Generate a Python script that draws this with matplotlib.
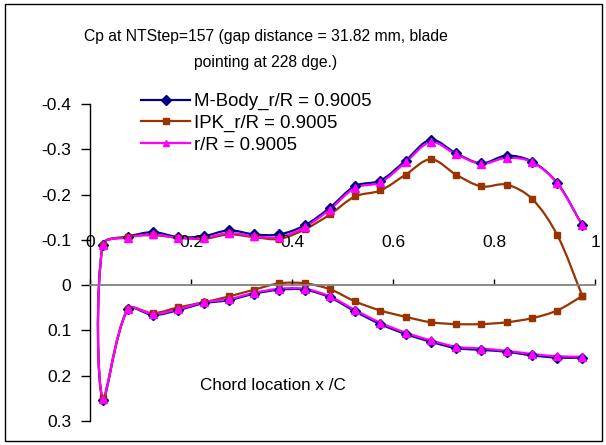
import matplotlib
matplotlib.use("Agg")
import matplotlib.pyplot as plt
from matplotlib.path import Path
from matplotlib.patches import PathPatch, Rectangle
from matplotlib.lines import Line2D
import numpy as np

# ---------------- data ----------------
x_chord = [0.025, 0.075, 0.125, 0.175, 0.225, 0.275, 0.325, 0.375, 0.425, 0.475,
           0.525, 0.575, 0.625, 0.675, 0.725, 0.775, 0.825, 0.875, 0.925, 0.975]

mbody_upper = [-0.089, -0.107, -0.117, -0.106, -0.108, -0.121, -0.112, -0.112, -0.132, -0.171,
               -0.219, -0.231, -0.275, -0.321, -0.291, -0.269, -0.286, -0.273, -0.226, -0.132]
mbody_lower = [0.254, 0.053, 0.066, 0.055, 0.040, 0.033, 0.019, 0.010, 0.010, 0.027,
               0.058, 0.086, 0.108, 0.125, 0.139, 0.143, 0.147, 0.155, 0.160, 0.160]

ipk_upper = [-0.089, -0.107, -0.110, -0.105, -0.102, -0.112, -0.106, -0.102, -0.123, -0.156,
             -0.196, -0.209, -0.244, -0.278, -0.244, -0.218, -0.222, -0.191, -0.111, 0.024]
ipk_lower = [0.249, 0.053, 0.062, 0.049, 0.038, 0.025, 0.010, -0.004, -0.004, 0.009,
             0.036, 0.056, 0.070, 0.082, 0.086, 0.086, 0.082, 0.073, 0.056, 0.024]

rr_upper = [-0.089, -0.105, -0.112, -0.104, -0.104, -0.115, -0.108, -0.106, -0.128, -0.167,
            -0.215, -0.227, -0.271, -0.316, -0.289, -0.268, -0.281, -0.272, -0.225, -0.132]
rr_lower = [0.252, 0.052, 0.064, 0.053, 0.038, 0.031, 0.017, 0.008, 0.008, 0.025,
            0.055, 0.083, 0.105, 0.122, 0.136, 0.140, 0.145, 0.152, 0.157, 0.158]

series_labels = ["M-Body_r/R = 0.9005", "IPK_r/R = 0.9005", "r/R = 0.9005"]
x_ticks = [0, 0.2, 0.4, 0.6, 0.8, 1.0]
x_tick_labels = ["0", "0.2", "0.4", "0.6", "0.8", "1"]
y_ticks = [-0.4, -0.3, -0.2, -0.1, 0.0, 0.1, 0.2, 0.3]
y_tick_labels = ["-0.4", "-0.3", "-0.2", "-0.1", "0", "0.1", "0.2", "0.3"]
title_lines = ["Cp at NTStep=157 (gap distance = 31.82 mm, blade", "pointing at 228 dge.)"]
axis_note = "Chord location x /C"

W, H = 606, 445
fig = plt.figure(figsize=(W / 100, H / 100), dpi=100)
fig.patch.set_facecolor("white")
plt.rcParams["font.family"] = ["Liberation Sans", "DejaVu Sans"]

# outer chart frame
fig.patches.append(Rectangle((5 / W, 4 / H), 597 / W, 437 / H, transform=fig.transFigure,
                             fill=False, edgecolor="black", linewidth=1.0))

left, right, top, bottom = 90, 595, 104, 421
ax = fig.add_axes([left / W, 1 - bottom / H, (right - left) / W, (bottom - top) / H])
ax.set_xlim(0, 1)
ax.set_ylim(0.3, -0.4)
ax.set_facecolor("none")


def smooth_path(xs, ys):
    """Excel-like smoothed line: cubic Bezier segments, tangents scaled by
    neighbouring segment lengths, computed in display space."""
    P = ax.transData.transform(np.column_stack([xs, ys]).astype(float))
    n = len(P)
    verts = [P[0]]
    codes = [Path.MOVETO]
    dist = lambda a, b: float(np.hypot(*(b - a)))
    for i in range(n - 1):
        p1, p2 = P[i], P[i + 1]
        d12 = dist(p1, p2)
        if i > 0:
            p0 = P[i - 1]
            d01 = dist(p0, p1)
            c1 = p1 + (p2 - p0) * (d12 / (d01 + d12)) / 3.0
        else:
            c1 = p1 + (p2 - p1) / 3.0
        if i + 2 < n:
            p3 = P[i + 2]
            d23 = dist(p2, p3)
            c2 = p2 - (p3 - p1) * (d12 / (d12 + d23)) / 3.0
        else:
            c2 = p2 - (p2 - p1) / 3.0
        verts += [c1, c2, p2]
        codes += [Path.CURVE4, Path.CURVE4, Path.CURVE4]
    verts = ax.transData.inverted().transform(np.array(verts))
    return Path(verts, codes)


styles = [
    dict(color="#000080", marker="D", ms=5.5),
    dict(color="#993300", marker="s", ms=4.2),
    dict(color="#FF00FF", marker="^", ms=5.5),
]
data = [(mbody_upper, mbody_lower), (ipk_upper, ipk_lower), (rr_upper, rr_lower)]

handles = []
for (up, lo), st, lab in zip(data, styles, series_labels):
    xs = list(x_chord[::-1]) + list(x_chord)
    ys = list(up[::-1]) + list(lo)
    ax.add_patch(PathPatch(smooth_path(xs, ys), facecolor="none", edgecolor=st["color"],
                           linewidth=1.6, capstyle="round", joinstyle="round"))
    ax.plot(xs, ys, linestyle="none", marker=st["marker"], ms=st["ms"],
            color=st["color"], markeredgecolor=st["color"])
    handles.append(Line2D([], [], color=st["color"], lw=1.6, marker=st["marker"],
                          ms=st["ms"] * 0.9, markeredgecolor=st["color"], label=lab))

# spines
ax.spines["top"].set_visible(False)
ax.spines["right"].set_visible(False)
ax.spines["left"].set_color("black")
ax.spines["left"].set_linewidth(1.0)
ax.spines["bottom"].set_position(("data", 0))
ax.spines["bottom"].set_color("#808080")
ax.spines["bottom"].set_linewidth(1.3)

ax.set_yticks(y_ticks)
ax.set_yticklabels(y_tick_labels)
ax.tick_params(axis="y", direction="out", length=6.5, width=1.0, color="black",
               labelsize=12.5, pad=7)
ax.set_xticks(x_ticks)
ax.set_xticklabels(x_tick_labels)
ax.tick_params(axis="x", direction="in", length=4.5, width=1.0, color="black",
               labelsize=12.5, pad=-36)

leg = ax.legend(handles=handles, loc="upper left",
                bbox_to_anchor=(141 / W, 1 - 93 / H), bbox_transform=fig.transFigure,
                frameon=False, fontsize=13.4, handlelength=2.65, handletextpad=0.2,
                labelspacing=0.25, borderpad=0, borderaxespad=0)

fig.text(266 / W, 1 - 36 / H, title_lines[0], ha="center", va="center", fontsize=11.3)
fig.text(266 / W, 1 - 63 / H, title_lines[1], ha="center", va="center", fontsize=11.3)
fig.text(200 / W, 1 - 386 / H, axis_note, ha="left", va="center", fontsize=12.3)

fig.savefig("out.png", dpi=100)
